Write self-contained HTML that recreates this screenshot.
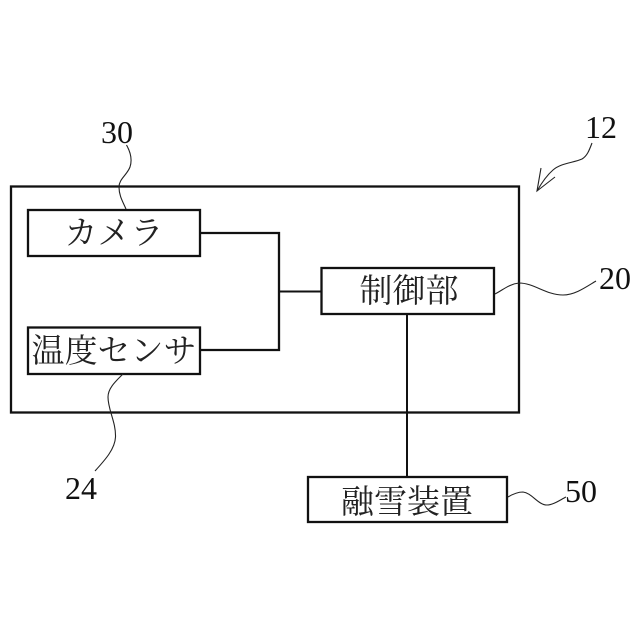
<!DOCTYPE html>
<html>
<head>
<meta charset="utf-8">
<style>
html,body{margin:0;padding:0;background:#fff;}
svg{display:block;}
.j{font-family:"Liberation Serif","Noto Serif CJK JP","Noto Serif CJK SC",serif;font-size:33px;fill:#222;text-anchor:middle;}
.n{font-family:"Liberation Serif",serif;font-size:32px;fill:#111;text-anchor:middle;}
</style>
</head>
<body>
<svg width="640" height="640" viewBox="0 0 640 640" xmlns="http://www.w3.org/2000/svg">
<rect width="640" height="640" fill="#fff"/>
<g fill="none" stroke="#111" stroke-width="2.300">
<rect x="11" y="186.500" width="508" height="226"/>
<rect x="28" y="210" width="172" height="46"/>
<rect x="28" y="327.500" width="172" height="46.500"/>
<rect x="321.500" y="268" width="172.500" height="46"/>
<rect x="308" y="477" width="199" height="45"/>
<path d="M201 233H279V350H201"/>
<path d="M279 291.500H321" stroke-width="2"/>
<path d="M407 314V477" stroke-width="2"/>
</g>
<g fill="none" stroke="#222" stroke-width="1.100">
<path d="M126.500 145C131 153 132 161 130 167C127 175 119 179 119 187C119 196 123 202 126 209"/>
<path d="M123 374C116 381 108 388 108 397C108 410 116 422 115.500 437C115 449 105 460 95 471"/>
<path d="M592 143C589 151 587 156 582 159C573 163 561 163 553 170C546 176 541 184 537 191"/>
<path d="M541 168L537 191L555 177"/>
<path d="M495 294C503 290 509 284 519 283C534 283 546 295 563 295C575 295 586 287 596 281"/>
<path d="M508 497C513 494 518 492 523 492C532 493 538 505 547 505C553 505 560 500 566 497"/>
</g>
<text class="n" x="117" y="143">30</text>
<text class="n" x="601" y="138">12</text>
<text class="n" x="615" y="289">20</text>
<text class="n" x="81" y="499">24</text>
<text class="n" x="581" y="502">50</text>
<text class="j" x="114" y="244">カメラ</text>
<text class="j" x="114" y="362">温度センサ</text>
<text class="j" x="409" y="302">制御部</text>
<text class="j" x="407" y="513">融雪装置</text>
</svg>
</body>
</html>
